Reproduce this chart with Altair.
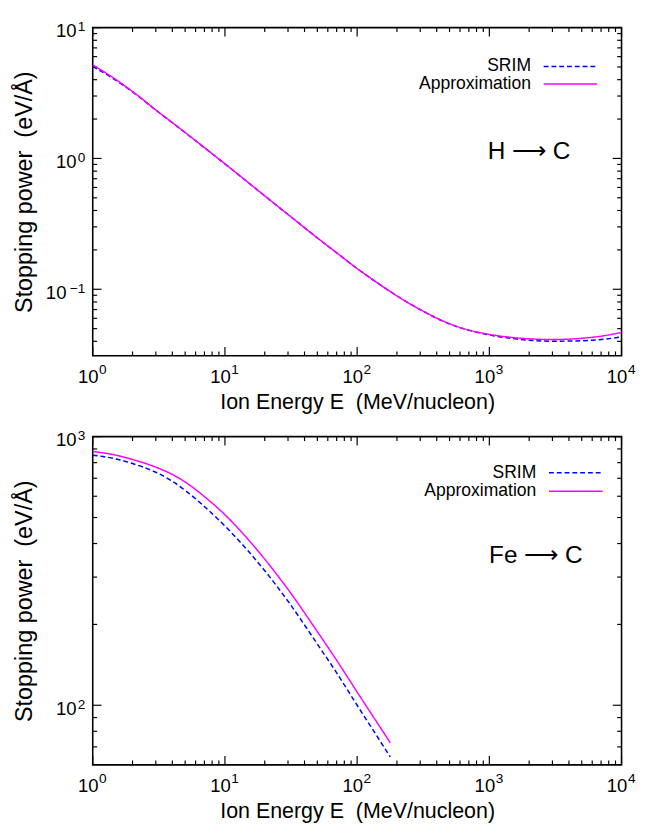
import altair as alt
import pandas as pd

FONT = "Liberation Sans"

# ---------------- data: H -> C ----------------
h_energy = [1, 1.5, 2, 3, 5, 7, 10, 15, 20, 30, 50, 70, 100, 150, 200, 300,
            500, 700, 1000, 1500, 2000, 3000, 5000, 7000, 10000]
h_approx = [5.2, 4.0, 3.25, 2.35, 1.58, 1.21, 0.91, 0.655, 0.518, 0.373,
            0.247, 0.19, 0.144, 0.108, 0.089, 0.070, 0.0545, 0.0488, 0.0452,
            0.0428, 0.0418, 0.0413, 0.0422, 0.0438, 0.0468]
h_srim = [5.05, 3.95, 3.23, 2.34, 1.575, 1.207, 0.908, 0.654, 0.517, 0.373,
          0.247, 0.19, 0.144, 0.108, 0.089, 0.0698, 0.0543, 0.0486, 0.0447,
          0.042, 0.0408, 0.0401, 0.0404, 0.0413, 0.0432]

# ---------------- data: Fe -> C ----------------
fe_energy = [1, 1.5, 2, 3, 4, 5, 7, 10, 15, 20, 30, 50, 70, 100, 150, 178]
fe_approx = [881, 853, 822, 770, 723, 678, 598, 512, 414, 350, 270, 188, 147,
             112, 82.5, 72.5]
fe_srim = [853, 826, 794, 737, 682, 631, 549, 465, 375, 317, 244, 169, 132,
           100, 73.3, 64.2]

series_names = ["SRIM", "Approximation"]
series_colors = ["#0000ff", "#ff00ff"]
series_dash = [[5, 3], [1, 0]]

# ---------------- ticks / tick labels ----------------
x_major = [1, 10, 100, 1000, 10000]
x_major_exp = ["0", "1", "2", "3", "4"]
x_minor = [m * d for d in [1, 10, 100, 1000] for m in range(2, 10)]

h_y_major = [0.1, 1, 10]
h_y_major_exp = ["−1", "0", "1"]
h_y_minor = [0.04, 0.05, 0.06, 0.07, 0.08, 0.09,
             0.2, 0.3, 0.4, 0.5, 0.6, 0.7, 0.8, 0.9,
             2, 3, 4, 5, 6, 7, 8, 9]
h_y_domain = [0.031, 10]

fe_y_major = [100, 1000]
fe_y_major_exp = ["2", "3"]
fe_y_minor = [70, 80, 90, 200, 300, 400, 500, 600, 700, 800, 900]
fe_y_domain = [60, 1000]

x_domain = [1, 10000]
x_title = "Ion Energy E \u00a0(MeV/nucleon)"
y_title = "Stopping power \u00a0(eV/Å)"

W, H = 543, 337
MAJ, MIN = 9, 4.5
BASE_FS, EXP_FS = 19, 14


def panel(energy, approx, srim, y_domain, y_major, y_major_exp, y_minor,
          annotation, ann_x, ann_y, leg_x, leg_y, leg_dy):
    rows = []
    for e, a, s in zip(energy, approx, srim):
        rows.append({"E": e, "S": s, "series": "SRIM"})
        rows.append({"E": e, "S": a, "series": "Approximation"})
    df = pd.DataFrame(rows)

    xs = alt.Scale(type="log", domain=x_domain, nice=False)
    ys = alt.Scale(type="log", domain=y_domain, nice=False)

    xaxis = alt.Axis(values=x_major, labels=False, ticks=False, domain=False,
                     grid=False, title=x_title, titleFont=FONT,
                     titleFontSize=22, titleFontWeight="normal",
                     titleColor="black", titleBaseline="top", titleY=37.5)
    yaxis = alt.Axis(values=y_major, labels=False, ticks=False, domain=False,
                     grid=False, title=y_title, titleFont=FONT,
                     titleFontSize=24, titleFontWeight="normal",
                     titleColor="black", titleAngle=270,
                     titleBaseline="bottom", titleX=-58.3, titleY=H / 2)

    def line(name):
        i = series_names.index(name)
        return alt.Chart(df).transform_filter(alt.datum.series == name).mark_line(
            strokeWidth=1.5, clip=True, interpolate="monotone",
            color=series_colors[i], strokeDash=series_dash[i]).encode(
            x=alt.X("E:Q", scale=xs, axis=xaxis),
            y=alt.Y("S:Q", scale=ys, axis=yaxis))

    def xticks(vals, ln):
        d = pd.DataFrame({"v": vals})
        b = alt.Chart(d).mark_rule(color="black", strokeWidth=1.2)
        bottom = b.encode(x=alt.X("v:Q", scale=xs, axis=xaxis),
                          y=alt.value(H), y2=alt.value(H - ln))
        top = b.encode(x=alt.X("v:Q", scale=xs, axis=xaxis),
                       y=alt.value(0), y2=alt.value(ln))
        return [bottom, top]

    def yticks(vals, ln):
        d = pd.DataFrame({"v": vals})
        b = alt.Chart(d).mark_rule(color="black", strokeWidth=1.2)
        left = b.encode(y=alt.Y("v:Q", scale=ys, axis=yaxis),
                        x=alt.value(0), x2=alt.value(ln))
        right = b.encode(y=alt.Y("v:Q", scale=ys, axis=yaxis),
                         x=alt.value(W - ln), x2=alt.value(W))
        return [left, right]

    # x tick labels: "10" with a raised exponent
    xl = pd.DataFrame({"v": x_major, "b": ["10"] * len(x_major),
                       "e": x_major_exp})
    x_base = alt.Chart(xl).mark_text(font=FONT, fontSize=BASE_FS, color="black",
                                     align="right", baseline="alphabetic",
                                     dx=6).encode(
        x=alt.X("v:Q", scale=xs, axis=xaxis), y=alt.value(H + 28), text="b:N")
    x_exp = alt.Chart(xl).mark_text(font=FONT, fontSize=EXP_FS, color="black",
                                    align="left", baseline="alphabetic",
                                    dx=6.5).encode(
        x=alt.X("v:Q", scale=xs, axis=xaxis), y=alt.value(H + 19), text="e:N")

    # y tick labels, right-aligned against the axis
    y_label_layers = []
    for v, ex in zip(y_major, y_major_exp):
        yl = pd.DataFrame({"v": [v], "b": ["10"], "e": [ex]})
        ew = 19.5 if len(ex) > 1 else 9.0
        y_label_layers.append(
            alt.Chart(yl).mark_text(font=FONT, fontSize=BASE_FS, color="black",
                                    align="right", baseline="alphabetic",
                                    dy=10).encode(
                y=alt.Y("v:Q", scale=ys, axis=yaxis), x=alt.value(-7.5 - ew),
                text="b:N"))
        y_label_layers.append(
            alt.Chart(yl).mark_text(font=FONT, fontSize=EXP_FS, color="black",
                                    align="right", baseline="alphabetic",
                                    dy=3.5).encode(
                y=alt.Y("v:Q", scale=ys, axis=yaxis), x=alt.value(-7.5),
                text="e:N"))

    # legend (gnuplot style: label on the left, line sample on the right)
    legend_layers = []
    for i, name in enumerate(series_names):
        ld = pd.DataFrame({"t": [name]})
        yy = leg_y + i * leg_dy
        legend_layers.append(
            alt.Chart(ld).mark_text(font=FONT, fontSize=18, color="black",
                                    align="right", baseline="middle").encode(
                x=alt.value(leg_x), y=alt.value(yy), text="t:N"))
        legend_layers.append(
            alt.Chart(ld).mark_rule(strokeWidth=1.5, color=series_colors[i],
                                    strokeDash=series_dash[i]).encode(
                x=alt.value(leg_x + 13), x2=alt.value(leg_x + 68),
                y=alt.value(yy)))

    ann = alt.Chart(pd.DataFrame({"t": [annotation]})).mark_text(
        font=FONT, fontSize=25, color="black", align="center",
        baseline="middle").encode(x=alt.value(ann_x), y=alt.value(ann_y),
                                  text="t:N")

    layers = (xticks(x_major, MAJ) + xticks(x_minor, MIN)
              + yticks(y_major, MAJ) + yticks(y_minor, MIN)
              + [line("SRIM"), line("Approximation"), x_base, x_exp]
              + y_label_layers + legend_layers + [ann])
    return alt.layer(*layers).properties(width=W, height=H)


top = panel(h_energy, h_approx, h_srim, h_y_domain, h_y_major,
            h_y_major_exp, h_y_minor, "H ⟶ C", 448, 127, 450, 40, 18)
bottom = panel(fe_energy, fe_approx, fe_srim, fe_y_domain, fe_y_major,
               fe_y_major_exp, fe_y_minor, "Fe ⟶ C", 455, 122, 455.5, 37, 19)

chart = alt.vconcat(top, bottom, spacing=83, bounds="flush").configure(
    font=FONT).configure_view(stroke="black", strokeWidth=1.6).properties(
    padding={"left": 3, "top": 0, "right": 5, "bottom": 5})

chart.save("out.html", embed_options={"renderer": "svg", "actions": False})
